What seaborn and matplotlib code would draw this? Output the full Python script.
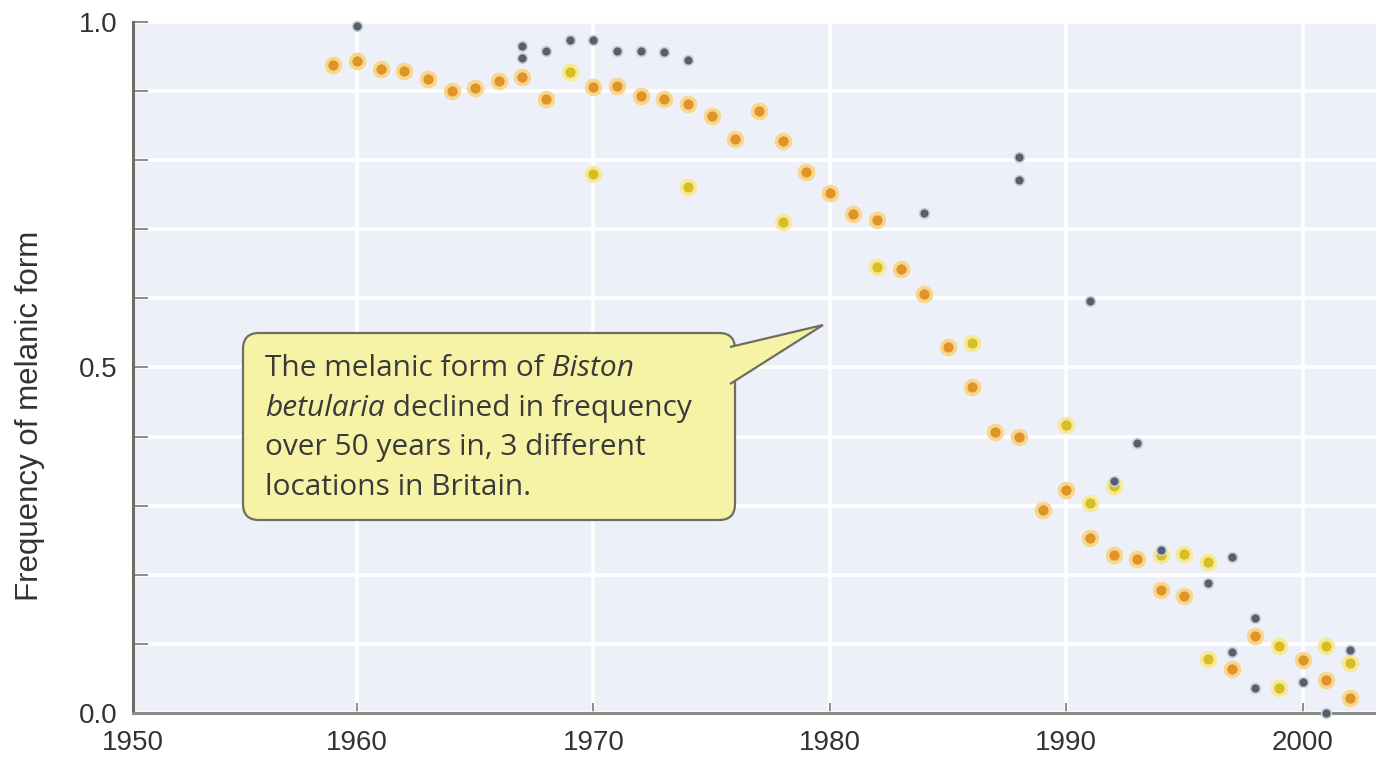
import matplotlib
matplotlib.use("Agg")
import matplotlib.pyplot as plt
from matplotlib.patches import FancyBboxPatch, Polygon
from matplotlib.text import Annotation
from matplotlib.ticker import MultipleLocator, FixedLocator
import pandas as pd
import seaborn as sns

# location 1 (dark grey dots)
dark_years = [1960, 1967, 1967, 1968, 1969, 1970, 1971, 1972, 1973, 1974,
              1984, 1988, 1988, 1991, 1992, 1993, 1994, 1996, 1997, 1997,
              1998, 1998, 2000, 2001, 2002]
dark_freq = [0.994, 0.965, 0.948, 0.958, 0.974, 0.974, 0.958, 0.958, 0.957, 0.945,
             0.723, 0.804, 0.771, 0.596, 0.335, 0.391, 0.236, 0.188, 0.226, 0.088,
             0.138, 0.036, 0.045, 0.000, 0.091]

# location 2 (orange dots)
orange_years = [1959, 1960, 1961, 1962, 1963, 1964, 1965, 1966, 1967, 1968,
                1970, 1971, 1972, 1973, 1974, 1975, 1976, 1977, 1978, 1979,
                1980, 1981, 1982, 1983, 1984, 1985, 1986, 1987, 1988, 1989,
                1990, 1991, 1992, 1993, 1994, 1995, 1997, 1998, 2000, 2001, 2002]
orange_freq = [0.938, 0.944, 0.932, 0.929, 0.917, 0.900, 0.904, 0.915, 0.920, 0.888,
               0.906, 0.907, 0.893, 0.888, 0.881, 0.864, 0.830, 0.871, 0.828, 0.783,
               0.752, 0.722, 0.713, 0.643, 0.607, 0.529, 0.472, 0.407, 0.400, 0.294,
               0.323, 0.253, 0.229, 0.223, 0.178, 0.170, 0.064, 0.112, 0.077, 0.047, 0.022]

# location 3 (yellow dots)
yellow_years = [1969, 1970, 1974, 1978, 1982, 1986, 1990, 1991, 1992, 1994,
                1995, 1996, 1996, 1999, 1999, 2001, 2002]
yellow_freq = [0.928, 0.780, 0.761, 0.710, 0.645, 0.535, 0.417, 0.304, 0.328, 0.229,
               0.230, 0.219, 0.078, 0.097, 0.036, 0.097, 0.072]

x_ticks = [1950.53, 1960, 1970, 1980, 1990, 2000]
x_labels = ["1950", "1960", "1970", "1980", "1990", "2000"]
y_labels = ["0.0", "0.5", "1.0"]

sns.set_theme(style="darkgrid", rc={
    "axes.facecolor": "#edf0f8",
    "grid.color": "white",
    "grid.linewidth": 2.6,
})
plt.rcParams["font.family"] = ["Liberation Sans", "DejaVu Sans"]

fig = plt.figure(figsize=(13.76, 7.64), dpi=100)
fig.patch.set_facecolor("white")
ax = fig.add_axes([0.0967, 0.0668, 0.9033, 0.9044])

series = [
    (orange_years, orange_freq, "#de9428", "#f8d68c", 100, 2.6),
    (yellow_years, yellow_freq, "#d9bd28", "#f6ea96", 100, 2.6),
    (dark_years, dark_freq, "#56606c", "#c8ced8", 50, 1.2),
]
for yrs, vals, fc, ec, size, lw in series:
    df = pd.DataFrame({"year": yrs, "freq": vals})
    sns.scatterplot(data=df, x="year", y="freq", ax=ax, color=fc, edgecolor=ec,
                    linewidth=lw, s=size, zorder=3, clip_on=False, legend=False)

ax.set_xlim(1950.53, 2003.1)
ax.set_ylim(0, 1.0)
ax.xaxis.set_major_locator(FixedLocator(x_ticks))
ax.set_xticklabels(x_labels)
ax.yaxis.set_major_locator(FixedLocator([0.0, 0.5, 1.0]))
ax.set_yticklabels(y_labels)
ax.yaxis.set_minor_locator(MultipleLocator(0.1))
ax.grid(which="both", axis="y", color="white", linewidth=2.6)
ax.grid(which="major", axis="x", color="white", linewidth=2.6)

for side in ["top", "right"]:
    ax.spines[side].set_visible(False)
ax.spines["left"].set_color("#6d6d66")
ax.spines["left"].set_linewidth(2.2)
ax.spines["bottom"].set_color("#8c8c86")
ax.spines["bottom"].set_linewidth(2.2)

ax.tick_params(axis="x", which="major", bottom=True, direction="in", length=7,
               width=1.4, color="#8c8c86", labelsize=20, labelcolor="#333333", pad=12)
ax.tick_params(axis="y", which="both", left=True, direction="in", length=11,
               width=1.4, color="#8c8c86", labelsize=20, labelcolor="#333333", pad=11)

ax.set_xlabel("")
ax.set_ylabel("Frequency of melanic form", fontsize=22.5, color="#333333")
ax.yaxis.set_label_coords(-0.071, 0.43)

# speech-bubble callout (in inches from the figure's lower-left corner)
tr = fig.dpi_scale_trans
box = FancyBboxPatch((2.43, 2.44), 4.92, 1.87,
                     boxstyle="round,pad=0,rounding_size=0.16",
                     transform=tr, facecolor="#f7f3a6", edgecolor="#6e6e60",
                     linewidth=1.6, zorder=5)
fig.patches.append(box)
tail = Polygon([(7.30, 4.17), (8.23, 4.39), (7.30, 3.80)], closed=False,
               transform=tr, facecolor="#f7f3a6", edgecolor="#6e6e60",
               linewidth=1.6, zorder=6)
fig.patches.append(tail)

txt_kw = dict(fontsize=21.5, color="#3a3a3a", family=["Open Sans", "DejaVu Sans"])


def follow(prev, s, **kw):
    # text piece that continues right after a previous text piece
    ann = Annotation(s, xy=(1, 0), xycoords=prev, va="bottom", zorder=7,
                     **kw, **txt_kw)
    fig.add_artist(ann)
    return ann


t1 = fig.text(2.65, 3.88, "The melanic form of", transform=tr, va="baseline",
              zorder=7, **txt_kw)
follow(t1, " Biston", style="italic")
t2 = fig.text(2.65, 3.48, "betularia", transform=tr, va="baseline", style="italic",
              zorder=7, **txt_kw)
follow(t2, " declined in frequency")
fig.text(2.65, 3.09, "over 50 years in, 3 different", transform=tr, va="baseline",
         zorder=7, **txt_kw)
fig.text(2.65, 2.69, "locations in Britain.", transform=tr, va="baseline",
         zorder=7, **txt_kw)

fig.savefig("out.png", dpi=100)
